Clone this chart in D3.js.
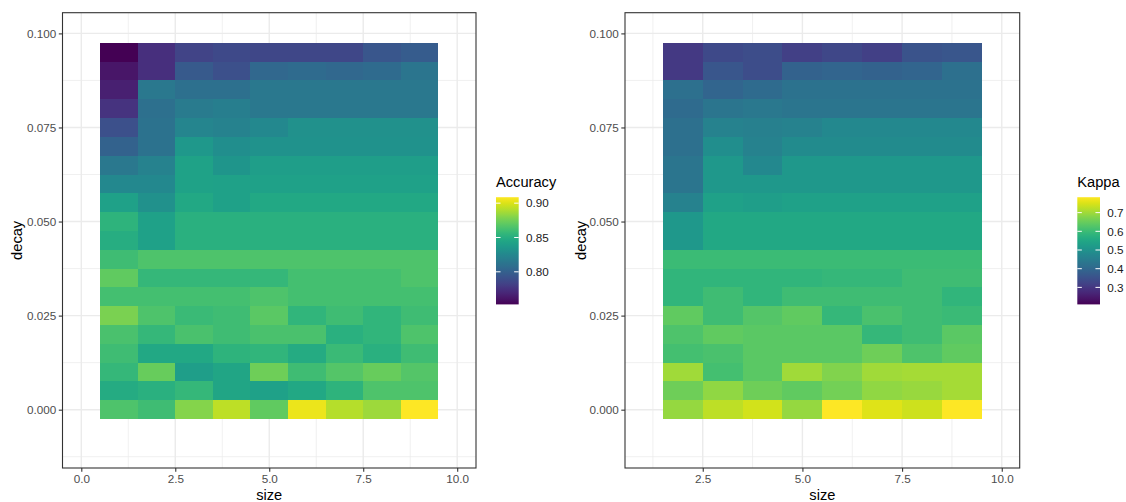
<!DOCTYPE html>
<html>
<head>
<meta charset="utf-8">
<script src="https://cdn.jsdelivr.net/npm/d3@7"></script>
<style>
  html, body { margin: 0; padding: 0; background: #ffffff; }
  svg { display: block; font-family: "Liberation Sans", Arial, sans-serif; }
</style>
</head>
<body>
<svg id="chart" width="1126" height="502"></svg>
<script>
// Grid of tuning parameters
const decayValues = [0, 0.005, 0.01, 0.015, 0.02, 0.025, 0.03, 0.035, 0.04, 0.045,
                     0.05, 0.055, 0.06, 0.065, 0.07, 0.075, 0.08, 0.085, 0.09, 0.095];
const accuracySizes = [1, 2, 3, 4, 5, 6, 7, 8, 9];
const kappaSizes = [2, 3, 4, 5, 6, 7, 8, 9];

// Accuracy, one row per decay value (same order as decayValues), columns = accuracySizes
const accuracy = [
  [0.8653, 0.8601, 0.8800, 0.8931, 0.8705, 0.9040, 0.8913, 0.8861, 0.9087],
  [0.8480, 0.8514, 0.8566, 0.8445, 0.8410, 0.8462, 0.8532, 0.8653, 0.8653],
  [0.8566, 0.8723, 0.8393, 0.8445, 0.8740, 0.8601, 0.8670, 0.8723, 0.8670],
  [0.8601, 0.8462, 0.8462, 0.8532, 0.8549, 0.8480, 0.8584, 0.8514, 0.8601],
  [0.8636, 0.8566, 0.8636, 0.8601, 0.8636, 0.8636, 0.8514, 0.8549, 0.8653],
  [0.8775, 0.8653, 0.8584, 0.8601, 0.8688, 0.8549, 0.8601, 0.8549, 0.8601],
  [0.8618, 0.8618, 0.8618, 0.8618, 0.8653, 0.8618, 0.8618, 0.8618, 0.8618],
  [0.8705, 0.8566, 0.8566, 0.8566, 0.8566, 0.8618, 0.8618, 0.8618, 0.8653],
  [0.8601, 0.8653, 0.8653, 0.8653, 0.8653, 0.8653, 0.8653, 0.8653, 0.8653],
  [0.8497, 0.8410, 0.8514, 0.8514, 0.8514, 0.8514, 0.8514, 0.8514, 0.8514],
  [0.8532, 0.8410, 0.8514, 0.8514, 0.8514, 0.8514, 0.8514, 0.8514, 0.8514],
  [0.8410, 0.8306, 0.8462, 0.8410, 0.8462, 0.8462, 0.8462, 0.8462, 0.8462],
  [0.8254, 0.8254, 0.8428, 0.8410, 0.8410, 0.8410, 0.8410, 0.8410, 0.8410],
  [0.8150, 0.8219, 0.8428, 0.8341, 0.8393, 0.8393, 0.8393, 0.8393, 0.8393],
  [0.8011, 0.8115, 0.8358, 0.8289, 0.8323, 0.8323, 0.8323, 0.8323, 0.8323],
  [0.7907, 0.8115, 0.8237, 0.8219, 0.8254, 0.8306, 0.8306, 0.8306, 0.8306],
  [0.7751, 0.8098, 0.8167, 0.8185, 0.8150, 0.8150, 0.8150, 0.8150, 0.8150],
  [0.7664, 0.8150, 0.8098, 0.8098, 0.8150, 0.8150, 0.8150, 0.8150, 0.8150],
  [0.7612, 0.7733, 0.7959, 0.7907, 0.8046, 0.8063, 0.8046, 0.8063, 0.8132],
  [0.7525, 0.7733, 0.7837, 0.7872, 0.7855, 0.7855, 0.7855, 0.7942, 0.7976]
];

// Kappa, one row per decay value, columns = kappaSizes
const kappa = [
  [0.6907, 0.7252, 0.7424, 0.6907, 0.7825, 0.7538, 0.7395, 0.7825],
  [0.6551, 0.6869, 0.6551, 0.6423, 0.6614, 0.6869, 0.6933, 0.7060],
  [0.6997, 0.6104, 0.6359, 0.6997, 0.6742, 0.6997, 0.7060, 0.7060],
  [0.6104, 0.6168, 0.6359, 0.6359, 0.6359, 0.6551, 0.6232, 0.6423],
  [0.6232, 0.6423, 0.6359, 0.6359, 0.6359, 0.5913, 0.6041, 0.6359],
  [0.6423, 0.6041, 0.6296, 0.6423, 0.5913, 0.6168, 0.6041, 0.5977],
  [0.5850, 0.6041, 0.5850, 0.6041, 0.6041, 0.6041, 0.6041, 0.5850],
  [0.5850, 0.5850, 0.5850, 0.5850, 0.5913, 0.5913, 0.6041, 0.6041],
  [0.6009, 0.6009, 0.6009, 0.6009, 0.6009, 0.6009, 0.6009, 0.6009],
  [0.5149, 0.5531, 0.5531, 0.5531, 0.5531, 0.5531, 0.5531, 0.5531],
  [0.5149, 0.5531, 0.5531, 0.5531, 0.5531, 0.5531, 0.5531, 0.5531],
  [0.4639, 0.5340, 0.5276, 0.5340, 0.5340, 0.5340, 0.5340, 0.5340],
  [0.4320, 0.5149, 0.5149, 0.5149, 0.5149, 0.5149, 0.5149, 0.5149],
  [0.4320, 0.5149, 0.4766, 0.5149, 0.5149, 0.5149, 0.5149, 0.5149],
  [0.4193, 0.4894, 0.4639, 0.4830, 0.4830, 0.4830, 0.4830, 0.4830],
  [0.4193, 0.4639, 0.4575, 0.4639, 0.4766, 0.4766, 0.4766, 0.4766],
  [0.4065, 0.4320, 0.4384, 0.4320, 0.4320, 0.4320, 0.4320, 0.4320],
  [0.4193, 0.3938, 0.4065, 0.4257, 0.4257, 0.4257, 0.4257, 0.4257],
  [0.3046, 0.3619, 0.3428, 0.3874, 0.3938, 0.3874, 0.3938, 0.4193],
  [0.3046, 0.3364, 0.3428, 0.3173, 0.3301, 0.3173, 0.3556, 0.3619]
];

// Axis breaks and colour-bar ranges
const decayBreaks = [0, 0.025, 0.05, 0.075, 0.1];
const decayMinorBreaks = [-0.0125, 0.0125, 0.0375, 0.0625, 0.0875];
const sizeBreaksLeft = [0, 2.5, 5, 7.5, 10];
const sizeBreaksRight = [2.5, 5, 7.5, 10];
const sizeMinorBreaks = [1.25, 3.75, 6.25, 8.75];
const accuracyRange = [0.7525, 0.9087];
const accuracyBreaks = [0.80, 0.85, 0.90];
const kappaRange = [0.209, 0.7825];
const kappaBreaks = [0.3, 0.4, 0.5, 0.6, 0.7];

const svg = d3.select("#chart");
const defs = svg.append("defs");

const panelTop = 12.7, panelBottom = 468;
const decayStep = 0.005, sizeStep = 1;

function drawPanel(cfg) {
  const x = d3.scaleLinear().domain(cfg.xDomain).range(cfg.xRange);
  const y = d3.scaleLinear().domain([-0.0155, 0.1055]).range([panelBottom, panelTop]);
  const g = svg.append("g");
  const [x0, x1] = cfg.xRange;

  // background grid
  const grid = g.append("g");
  grid.selectAll(".ymin").data(decayMinorBreaks).join("line")
    .attr("x1", x0).attr("x2", x1)
    .attr("y1", d => y(d)).attr("y2", d => y(d))
    .attr("stroke", "#ebebeb").attr("stroke-width", 0.75);
  grid.selectAll(".xmin").data(sizeMinorBreaks.filter(d => d > cfg.xDomain[0] && d < cfg.xDomain[1])).join("line")
    .attr("y1", panelTop).attr("y2", panelBottom)
    .attr("x1", d => x(d)).attr("x2", d => x(d))
    .attr("stroke", "#ebebeb").attr("stroke-width", 0.75);
  grid.selectAll(".ymaj").data(decayBreaks).join("line")
    .attr("x1", x0).attr("x2", x1)
    .attr("y1", d => y(d)).attr("y2", d => y(d))
    .attr("stroke", "#ebebeb").attr("stroke-width", 1.4);
  grid.selectAll(".xmaj").data(cfg.xBreaks).join("line")
    .attr("y1", panelTop).attr("y2", panelBottom)
    .attr("x1", d => x(d)).attr("x2", d => x(d))
    .attr("stroke", "#ebebeb").attr("stroke-width", 1.4);

  // tiles
  const color = d3.scaleSequential(d3.interpolateViridis).domain(cfg.colorRange);
  const cells = [];
  cfg.values.forEach((row, i) => {
    row.forEach((v, j) => cells.push({ size: cfg.sizes[j], decay: decayValues[i], value: v }));
  });
  g.append("g").attr("shape-rendering", "crispEdges")
    .selectAll("rect").data(cells).join("rect")
    .attr("x", d => x(d.size - sizeStep / 2))
    .attr("y", d => y(d.decay + decayStep / 2))
    .attr("width", d => x(d.size + sizeStep / 2) - x(d.size - sizeStep / 2))
    .attr("height", d => y(d.decay - decayStep / 2) - y(d.decay + decayStep / 2))
    .attr("fill", d => color(d.value));

  // panel border
  g.append("rect")
    .attr("x", x0).attr("y", panelTop)
    .attr("width", x1 - x0).attr("height", panelBottom - panelTop)
    .attr("fill", "none").attr("stroke", "#333333").attr("stroke-width", 1.1);

  // axes
  const yAxis = d3.axisLeft(y).tickValues(decayBreaks).tickFormat(d3.format(".3f"))
    .tickSize(3.7).tickPadding(2.6);
  const ya = g.append("g").attr("transform", `translate(${x0},0)`).call(yAxis);
  const xAxis = d3.axisBottom(x).tickValues(cfg.xBreaks).tickFormat(d3.format(".1f"))
    .tickSize(3.7).tickPadding(3.2);
  const xa = g.append("g").attr("transform", `translate(0,${panelBottom})`).call(xAxis);
  [ya, xa].forEach(a => {
    a.select(".domain").remove();
    a.selectAll(".tick line").attr("stroke", "#333333").attr("stroke-width", 1.1);
    a.selectAll(".tick text").attr("fill", "#4d4d4d")
      .style("font-size", "11.7px").style("font-family", "Liberation Sans, Arial, sans-serif");
  });

  // axis titles
  g.append("text")
    .attr("x", (x0 + x1) / 2).attr("y", 500)
    .attr("text-anchor", "middle")
    .style("font-size", "14.67px").attr("fill", "#000")
    .text("size");
  g.append("text")
    .attr("transform", `translate(${cfg.yTitleX},${(panelTop + panelBottom) / 2}) rotate(-90)`)
    .attr("text-anchor", "middle")
    .style("font-size", "14.67px").attr("fill", "#000")
    .text("decay");

  // colour bar legend
  const lx = cfg.legendX, barTop = 197.2, barBottom = 304.4, barW = 22.7;
  const gradId = "grad-" + cfg.name;
  const grad = defs.append("linearGradient").attr("id", gradId)
    .attr("x1", 0).attr("x2", 0).attr("y1", 1).attr("y2", 0);
  d3.range(0, 1.0001, 0.02).forEach(t => {
    grad.append("stop").attr("offset", t).attr("stop-color", d3.interpolateViridis(t));
  });
  const lg = svg.append("g");
  lg.append("text")
    .attr("x", lx).attr("y", 186.5)
    .style("font-size", "14.67px").attr("fill", "#000")
    .text(cfg.name);
  lg.append("rect")
    .attr("x", lx).attr("y", barTop).attr("width", barW).attr("height", barBottom - barTop)
    .attr("fill", `url(#${gradId})`);
  const ly = d3.scaleLinear().domain(cfg.colorRange).range([barBottom, barTop]);
  const tickLen = barW / 5;
  cfg.legendBreaks.forEach(b => {
    lg.append("line").attr("x1", lx).attr("x2", lx + tickLen)
      .attr("y1", ly(b)).attr("y2", ly(b)).attr("stroke", "#fff").attr("stroke-width", 1);
    lg.append("line").attr("x1", lx + barW - tickLen).attr("x2", lx + barW)
      .attr("y1", ly(b)).attr("y2", ly(b)).attr("stroke", "#fff").attr("stroke-width", 1);
    lg.append("text")
      .attr("x", lx + barW + 7.3).attr("y", ly(b)).attr("dy", "0.36em")
      .style("font-size", "11.7px").attr("fill", "#1a1a1a")
      .text(cfg.legendFormat(b));
  });
}

drawPanel({
  name: "Accuracy",
  xDomain: [-0.5, 10.5], xRange: [62.5, 476],
  xBreaks: sizeBreaksLeft,
  sizes: accuracySizes, values: accuracy,
  colorRange: accuracyRange, legendBreaks: accuracyBreaks,
  legendFormat: d3.format(".2f"),
  yTitleX: 22, legendX: 496
});

drawPanel({
  name: "Kappa",
  xDomain: [0.55, 10.45], xRange: [625, 1019.7],
  xBreaks: sizeBreaksRight,
  sizes: kappaSizes, values: kappa,
  colorRange: kappaRange, legendBreaks: kappaBreaks,
  legendFormat: d3.format(".1f"),
  yTitleX: 586, legendX: 1077.3
});
</script>
</body>
</html>
